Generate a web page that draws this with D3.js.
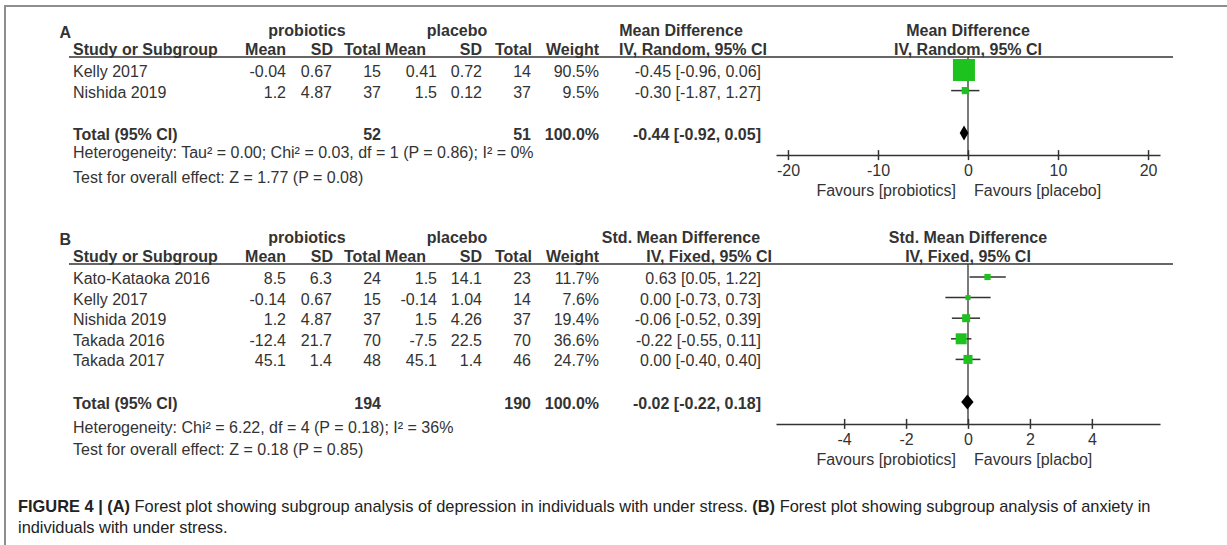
<!DOCTYPE html>
<html>
<head>
<meta charset="utf-8">
<script src="https://cdn.jsdelivr.net/npm/d3@7"></script>
<style>
  html, body { margin: 0; padding: 0; background: #fff; }
  svg { display: block; }
  text { font-family: "Liberation Sans", Arial, Helvetica, sans-serif; font-size: 16px; fill: #333; }
  .b { font-weight: bold; }
  .cap { font-size: 16.4px; fill: #222; }
</style>
</head>
<body>
<svg id="fig" width="1227" height="545"></svg>
<script>
// ---- Panel A: depression (mean difference, random effects) ----
const studiesA  = ["Kelly 2017", "Nishida 2019"];
const probMeanA = [-0.04, 1.2];
const probSdA   = [0.67, 4.87];
const probNA    = [15, 37];
const placMeanA = [0.41, 1.5];
const placSdA   = [0.72, 0.12];
const placNA    = [14, 37];
const weightA   = [90.5, 9.5];
const effA      = [-0.45, -0.30];
const loA       = [-0.96, -1.87];
const hiA       = [0.06, 1.27];
const totalNA   = [52, 51];
const totalEffA = [-0.44, -0.92, 0.05];   // estimate, lower, upper
const ticksA    = [-20, -10, 0, 10, 20];
const hetA  = "Heterogeneity: Tau\u00b2 = 0.00; Chi\u00b2 = 0.03, df = 1 (P = 0.86); I\u00b2 = 0%";
const testA = "Test for overall effect: Z = 1.77 (P = 0.08)";

// ---- Panel B: anxiety (standardised mean difference, fixed effect) ----
const studiesB  = ["Kato-Kataoka 2016", "Kelly 2017", "Nishida 2019", "Takada 2016", "Takada 2017"];
const probMeanB = [8.5, -0.14, 1.2, -12.4, 45.1];
const probSdB   = [6.3, 0.67, 4.87, 21.7, 1.4];
const probNB    = [24, 15, 37, 70, 48];
const placMeanB = [1.5, -0.14, 1.5, -7.5, 45.1];
const placSdB   = [14.1, 1.04, 4.26, 22.5, 1.4];
const placNB    = [23, 14, 37, 70, 46];
const weightB   = [11.7, 7.6, 19.4, 36.6, 24.7];
const effB      = [0.63, 0.00, -0.06, -0.22, 0.00];
const loB       = [0.05, -0.73, -0.52, -0.55, -0.40];
const hiB       = [1.22, 0.73, 0.39, 0.11, 0.40];
const totalNB   = [194, 190];
const totalEffB = [-0.02, -0.22, 0.18];
const ticksB    = [-4, -2, 0, 2, 4];
const hetB  = "Heterogeneity: Chi\u00b2 = 6.22, df = 4 (P = 0.18); I\u00b2 = 36%";
const testB = "Test for overall effect: Z = 0.18 (P = 0.85)";

const svg = d3.select("#fig");
const INK = "#333";
const GREEN = "#1ec21e";

// frame: left and top rules
svg.append("path")
  .attr("d", "M5,545V6H1227")
  .attr("fill", "none")
  .attr("stroke", "#8e8e8e")
  .attr("stroke-width", 2);

function txt(g, x, y, s, anchor, bold) {
  return g.append("text")
    .attr("x", x).attr("y", y)
    .attr("text-anchor", anchor || "start")
    .attr("class", bold ? "b" : null)
    .text(s);
}

const fmtCI = (e, l, h) => `${e.toFixed(2)} [${l.toFixed(2)}, ${h.toFixed(2)}]`;
const fmtW = w => `${w.toFixed(1)}%`;

function drawPanel(p) {
  const g = svg.append("g").attr("transform", `translate(0,${p.top})`);
  const n = p.studies.length;

  // vertical layout of the rows
  const row = d3.scaleLinear().domain([0, 1]).range([77, 97.6]);
  const yTitle = 36, yHead = 54.5, yRule = 57;
  const yTotal = row(n - 1) + 42.5;
  const yAxis = yTotal + 15;
  const markDy = -7;

  // column anchors (right edges)
  const col = { m1: 286, s1: 332, n1: 381, m2: 437, s2: 482, n2: 531, w: 599, ci: 761 };

  // group titles
  txt(g, 59.5, 38, p.letter, "start", true);
  txt(g, 307, yTitle, "probiotics", "middle", true);
  txt(g, 457, yTitle, "placebo", "middle", true);
  txt(g, 681, yTitle, p.effTitle, "middle", true);
  txt(g, p.x(0), yTitle, p.effTitle, "middle", true);

  // column headers
  txt(g, 73, yHead, "Study or Subgroup", "start", true);
  txt(g, 286, yHead, "Mean", "end", true);
  txt(g, 333, yHead, "SD", "end", true);
  txt(g, 381, yHead, "Total", "end", true);
  txt(g, 426, yHead, "Mean", "end", true);
  txt(g, 482, yHead, "SD", "end", true);
  txt(g, 532, yHead, "Total", "end", true);
  txt(g, 599, yHead, "Weight", "end", true);
  txt(g, p.ciHeadRight, yHead, p.method, "end", true);
  txt(g, p.x(0), yHead, p.method, "middle", true);

  g.append("line")
    .attr("x1", 69).attr("x2", 1173)
    .attr("y1", yRule).attr("y2", yRule)
    .attr("stroke", INK).attr("stroke-width", 1.5);

  // study rows
  p.studies.forEach((s, i) => {
    const y = row(i);
    txt(g, 73, y, s);
    txt(g, col.m1, y, String(p.probMean[i]), "end");
    txt(g, col.s1, y, String(p.probSd[i]), "end");
    txt(g, col.n1, y, String(p.probN[i]), "end");
    txt(g, col.m2, y, String(p.placMean[i]), "end");
    txt(g, col.s2, y, String(p.placSd[i]), "end");
    txt(g, col.n2, y, String(p.placN[i]), "end");
    txt(g, col.w, y, fmtW(p.weight[i]), "end");
    txt(g, col.ci, y, fmtCI(p.eff[i], p.lo[i], p.hi[i]), "end");
  });

  // pooled row
  txt(g, 73, yTotal, "Total (95% CI)", "start", true);
  txt(g, col.n1, yTotal, String(p.totalN[0]), "end", true);
  txt(g, col.n2, yTotal, String(p.totalN[1]), "end", true);
  txt(g, col.w, yTotal, fmtW(100), "end", true);
  txt(g, col.ci, yTotal, fmtCI(p.totalEff[0], p.totalEff[1], p.totalEff[2]), "end", true);
  txt(g, 73, yTotal + p.hetGap, p.het);
  txt(g, 73, yTotal + p.testGap, p.test);

  // line of no effect
  g.append("line")
    .attr("x1", p.x(0)).attr("x2", p.x(0))
    .attr("y1", yRule).attr("y2", yAxis)
    .attr("stroke", INK).attr("stroke-width", 1.3);

  // confidence intervals
  const box = d3.scaleSqrt().domain([0, d3.max(p.weight)]).range([0, p.maxBox]);
  g.selectAll("line.ci").data(p.studies).join("line")
    .attr("class", "ci")
    .attr("x1", (d, i) => p.x(p.lo[i]))
    .attr("x2", (d, i) => p.x(p.hi[i]))
    .attr("y1", (d, i) => row(i) + markDy)
    .attr("y2", (d, i) => row(i) + markDy)
    .attr("stroke", INK).attr("stroke-width", 1.5);

  // weight squares
  g.selectAll("rect.box").data(p.studies).join("rect")
    .attr("class", "box")
    .attr("x", (d, i) => p.x(p.eff[i]) - box(p.weight[i]) / 2)
    .attr("y", (d, i) => row(i) + markDy - box(p.weight[i]) / 2)
    .attr("width", (d, i) => box(p.weight[i]))
    .attr("height", (d, i) => box(p.weight[i]))
    .attr("fill", GREEN);

  // pooled diamond
  const yd = yTotal + markDy;
  const [te, tl, th] = p.totalEff;
  g.append("path")
    .attr("d", `M${p.x(tl)},${yd}L${p.x(te)},${yd - 7.5}L${p.x(th)},${yd}L${p.x(te)},${yd + 7.5}Z`)
    .attr("fill", "#000");

  // effect axis
  const axis = d3.axisBottom(p.x)
    .tickValues(p.ticks)
    .tickFormat(d => String(d))
    .tickSizeInner(5)
    .tickSizeOuter(0);
  const ga = g.append("g")
    .attr("transform", `translate(0,${yAxis})`)
    .call(axis)
    .attr("font-size", null)
    .attr("font-family", null)
    .attr("color", INK);
  ga.select(".domain").attr("stroke-width", 1.5);
  ga.selectAll(".tick line").attr("y1", -5).attr("y2", 5).attr("stroke-width", 1.5);
  ga.selectAll(".tick text").attr("y", 21).attr("dy", null).style("fill", INK);

  txt(g, p.x(0) - 12, yAxis + 41, "Favours [probiotics]", "end");
  txt(g, p.x(0) + 6, yAxis + 41, p.rightLabel, "start");
}

drawPanel({
  top: 0, letter: "A",
  studies: studiesA, probMean: probMeanA, probSd: probSdA, probN: probNA,
  placMean: placMeanA, placSd: placSdA, placN: placNA,
  weight: weightA, eff: effA, lo: loA, hi: hiA,
  totalN: totalNA, totalEff: totalEffA,
  het: hetA, test: testA, hetGap: 18, testGap: 42.5,
  effTitle: "Mean Difference", method: "IV, Random, 95% CI", ciHeadRight: 767,
  x: d3.scaleLinear().domain([-21.33, 21.33]).range([776, 1160]),
  ticks: ticksA, maxBox: 22, rightLabel: "Favours [placebo]"
});

drawPanel({
  top: 207, letter: "B",
  studies: studiesB, probMean: probMeanB, probSd: probSdB, probN: probNB,
  placMean: placMeanB, placSd: placSdB, placN: placNB,
  weight: weightB, eff: effB, lo: loB, hi: hiB,
  totalN: totalNB, totalEff: totalEffB,
  het: hetB, test: testB, hetGap: 24, testGap: 46,
  effTitle: "Std. Mean Difference", method: "IV, Fixed, 95% CI", ciHeadRight: 772,
  x: d3.scaleLinear().domain([-6.2, 6.2]).range([776, 1160]),
  ticks: ticksB, maxBox: 11, rightLabel: "Favours [placbo]"
});

// figure caption
const cap = svg.append("text").attr("class", "cap").attr("x", 18).attr("y", 512);
cap.append("tspan").attr("class", "b").text("FIGURE 4 | (A)");
cap.append("tspan").text(" Forest plot showing subgroup analysis of depression in individuals with under stress. ");
cap.append("tspan").attr("class", "b").text("(B)");
cap.append("tspan").text(" Forest plot showing subgroup analysis of anxiety in");
svg.append("text").attr("class", "cap").attr("x", 18).attr("y", 533)
  .text("individuals with under stress.");
</script>
</body>
</html>
